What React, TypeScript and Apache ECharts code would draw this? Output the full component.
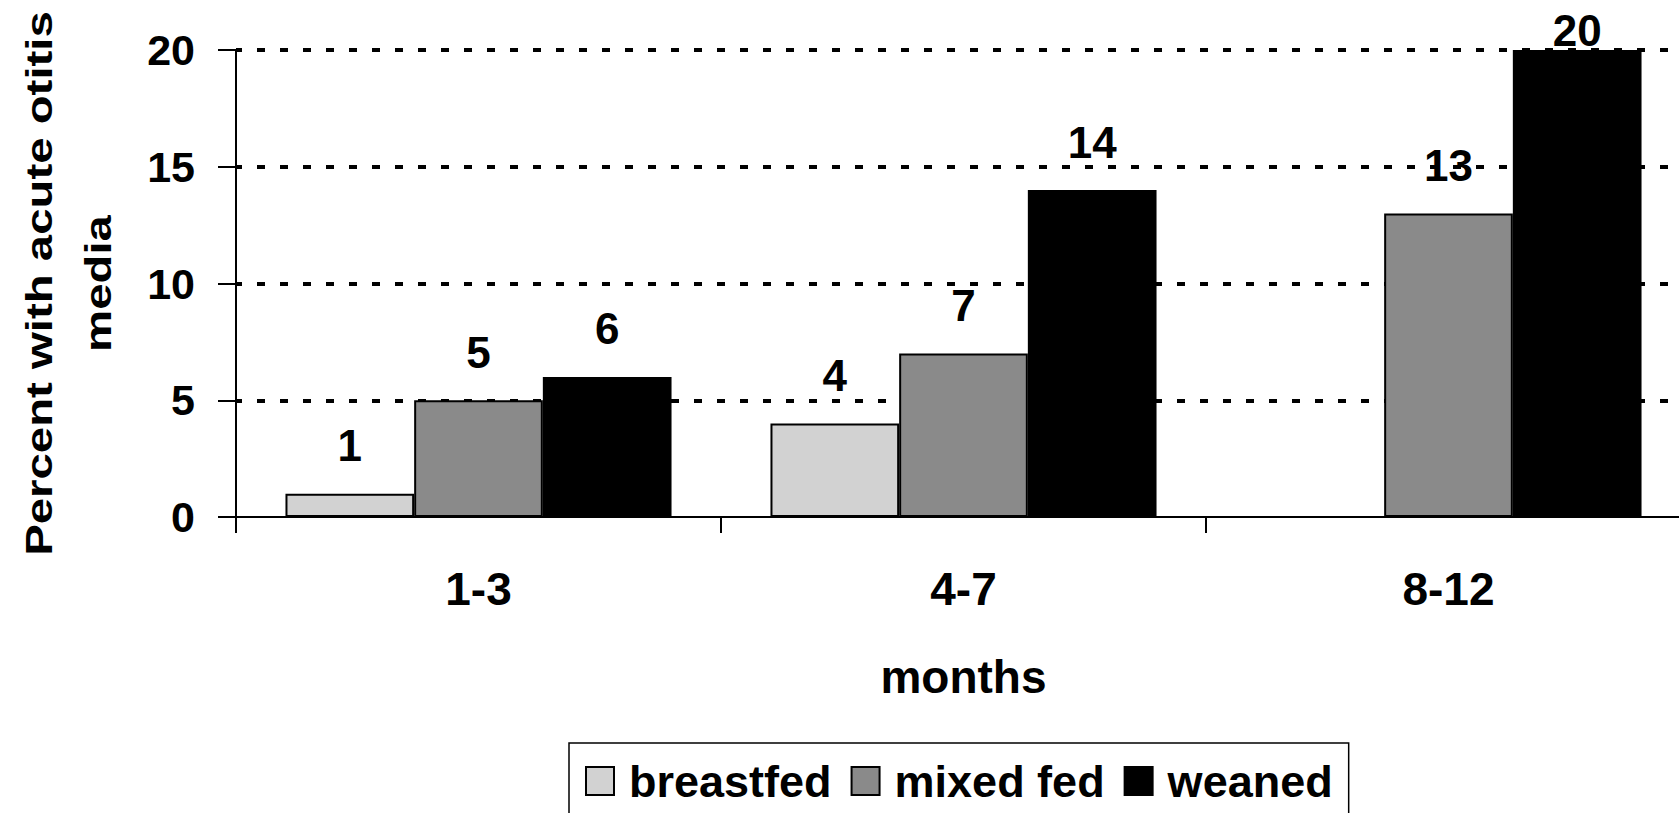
import React, { useEffect, useRef } from "react";
import * as echarts from "echarts";

const categories = ["1-3", "4-7", "8-12"];
const breastfed: (number | null)[] = [1, 4, null];
const mixedFed: number[] = [5, 7, 13];
const weaned: number[] = [6, 14, 20];
const seriesNames = ["breastfed", "mixed fed", "weaned"];
const yTitle = "Percent with acute otitis\nmedia";
const xTitle = "months";
const yMin = 0;
const yMax = 20;
const yInterval = 5;

const FONT = "'Liberation Sans', Arial, sans-serif";

export default function App() {
  const ref = useRef<HTMLDivElement>(null);
  useEffect(() => {
    document.body.style.margin = "0";
    const chart = echarts.init(ref.current!, null, { renderer: "svg" });
    const mkData = (vals: (number | null)[]) =>
      vals.map((v) =>
        v === yMax ? { value: v, label: { distance: -2 } } : v
      );
    const labelStyle = {
      show: true,
      position: "top" as const,
      distance: 26,
      fontSize: 44,
      lineHeight: 44,
      fontWeight: "bold" as const,
      fontFamily: FONT,
      color: "#000",
    };
    const mk = (name: string, vals: (number | null)[], color: string) => ({
      name,
      type: "bar" as const,
      data: mkData(vals),
      barGap: "0%",
      barCategoryGap: "20.4%",
      itemStyle: { color, borderColor: "#000", borderWidth: 2 },
      label: labelStyle,
      emphasis: { disabled: true },
    });
    const gridTop = 50;
    const gridBottom = 296;
    chart.setOption({
      animation: false,
      backgroundColor: "#fff",
      textStyle: { fontFamily: FONT },
      grid: {
        left: 236,
        top: gridTop,
        width: 1455,
        bottom: gridBottom,
        containLabel: false,
        outerBoundsMode: "none",
      },
      graphic: [
        {
          type: "text",
          x: 69,
          y: (gridTop + (813 - gridBottom)) / 2,
          rotation: Math.PI / 2,
          scaleX: 1.28,
          scaleY: 1,
          silent: true,
          style: {
            text: yTitle,
            fontSize: 37,
            fontWeight: "bold",
            fontFamily: FONT,
            fill: "#000",
            lineHeight: 59,
            align: "center",
            verticalAlign: "middle",
            textAlign: "center",
            textVerticalAlign: "middle",
          },
        },
      ],
      legend: {
        left: 569,
        top: 743,
        icon: "rect",
        itemWidth: 28,
        itemHeight: 28,
        itemGap: 19,
        borderColor: "#000",
        borderWidth: 1.5,
        padding: [15, 16, 40, 16],
        textStyle: {
          fontSize: 45,
          lineHeight: 46,
          fontWeight: "bold",
          fontFamily: FONT,
          color: "#000",
          padding: [0, 0, 0, 10],
        },
        data: seriesNames,
      },
      xAxis: {
        type: "category",
        data: categories,
        boundaryGap: true,
        name: xTitle,
        nameLocation: "middle",
        nameGap: 137,
        nameTextStyle: {
          fontSize: 46,
          lineHeight: 46,
          fontWeight: "bold",
          fontFamily: FONT,
          color: "#000",
        },
        axisLine: { show: true, lineStyle: { color: "#000", width: 2 } },
        axisTick: { show: true, length: 16, lineStyle: { color: "#000", width: 2 } },
        axisLabel: {
          margin: 49,
          fontSize: 46,
          lineHeight: 46,
          fontWeight: "bold",
          fontFamily: FONT,
          color: "#000",
        },
      },
      yAxis: {
        type: "value",
        min: yMin,
        max: yMax,
        interval: yInterval,
        axisLine: { show: true, lineStyle: { color: "#000", width: 2 } },
        axisTick: { show: true, length: 18, lineStyle: { color: "#000", width: 2 } },
        axisLabel: {
          margin: 41,
          fontSize: 43,
          fontWeight: "bold",
          fontFamily: FONT,
          color: "#000",
        },
        splitLine: {
          show: true,
          showMinLine: false,
          lineStyle: { color: "#000", width: 4, type: [8, 15], dashOffset: 2 },
        },
      },
      series: [
        mk(seriesNames[0], breastfed, "#d2d2d2"),
        mk(seriesNames[1], mixedFed, "#8a8a8a"),
        mk(seriesNames[2], weaned, "#000000"),
      ],
    });
    return () => chart.dispose();
  }, []);
  return (
    <div
      ref={ref}
      style={{ position: "fixed", left: 0, top: 0, width: 1679, height: 813 }}
    />
  );
}
